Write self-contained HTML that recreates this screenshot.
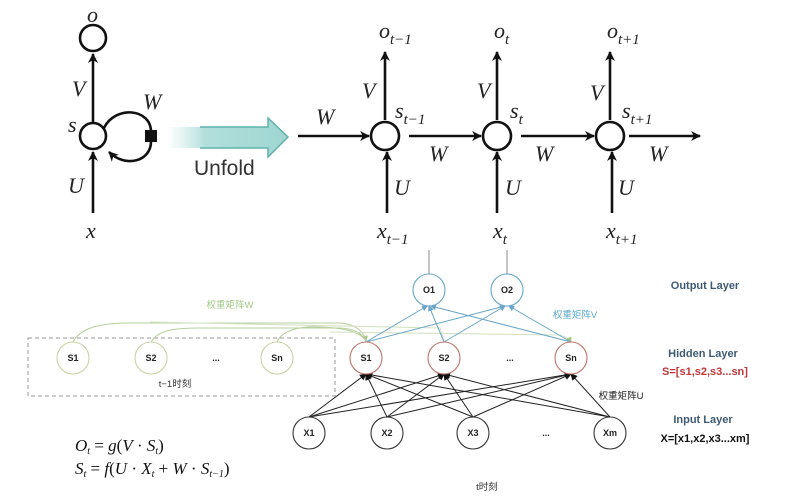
<!DOCTYPE html>
<html><head><meta charset="utf-8"><style>
html,body{margin:0;padding:0;background:#fff}
svg{display:block}
</style></head><body>
<svg width="796" height="500" viewBox="0 0 796 500" xmlns="http://www.w3.org/2000/svg">
<defs>
<marker id="ah" markerWidth="10" markerHeight="10" refX="9" refY="5" orient="auto" markerUnits="userSpaceOnUse"><path d="M0,0 L10,5 L0,10 L3,5 z" fill="#111"/></marker>
<marker id="sm" markerWidth="7" markerHeight="7" refX="6" refY="3.5" orient="auto" markerUnits="userSpaceOnUse"><path d="M0,0 L7,3.5 L0,7 z" fill="#111"/></marker>
<marker id="bm" markerWidth="6" markerHeight="6" refX="5" refY="3" orient="auto" markerUnits="userSpaceOnUse"><path d="M0,0 L6,3 L0,6 z" fill="#6aa6c8"/></marker>
<marker id="gm" markerWidth="6" markerHeight="6" refX="5" refY="3" orient="auto" markerUnits="userSpaceOnUse"><path d="M0,0 L6,3 L0,6 z" fill="#a9c98a"/></marker>
<linearGradient id="tg" x1="0" x2="1" y1="0" y2="0">
<stop offset="0" stop-color="#c6e8e5" stop-opacity="0.1"/><stop offset="0.3" stop-color="#b2dfdb"/><stop offset="1" stop-color="#9ed6d1"/></linearGradient>
</defs>
<g stroke="#111" stroke-width="2.6" fill="none">
<!-- left folded -->
<circle cx="93" cy="38" r="13"/>
<circle cx="93" cy="136" r="13"/>
<line x1="93" y1="122" x2="93" y2="54" marker-end="url(#ah)"/>
<line x1="93" y1="213" x2="93" y2="152" marker-end="url(#ah)"/>
<path d="M104,128 C115,105 152,108 151,133"/>
<path d="M151,140 C152,162 125,168 109,152" marker-end="url(#ah)"/>
</g>
<rect x="145" y="130" width="12" height="12" fill="#111"/>
<g font-family="Liberation Serif,serif" font-style="italic" font-size="22" fill="#222">
<text x="87" y="22">o</text>
<text x="72" y="96">V</text>
<text x="68" y="132">s</text>
<text x="143" y="109">W</text>
<text x="68" y="193">U</text>
<text x="86" y="238">x</text>
</g>
<!-- unfold arrow -->
<path d="M170,127 H268 V118 L288,137 L268,157 V148 H170 z" fill="url(#tg)" stroke="none"/>
<path d="M200,127 H268 V118 L288,137 L268,157 V148 H200" fill="none" stroke="#5fb3ac" stroke-width="1.5"/>
<text x="194" y="175" font-family="Liberation Sans,sans-serif" font-size="21" fill="#333">Unfold</text>
<!-- unfolded -->
<g stroke="#111" stroke-width="2.6" fill="none">
<circle cx="385" cy="136" r="14"/>
<circle cx="497" cy="136" r="14"/>
<circle cx="610" cy="136" r="14"/>
<line x1="298" y1="136" x2="369" y2="136" marker-end="url(#ah)"/>
<line x1="409" y1="136" x2="481" y2="136" marker-end="url(#ah)"/>
<line x1="521" y1="136" x2="594" y2="136" marker-end="url(#ah)"/>
<line x1="629" y1="136" x2="700" y2="136" marker-end="url(#ah)"/>
<line x1="385" y1="120" x2="385" y2="52" marker-end="url(#ah)"/>
<line x1="497" y1="120" x2="497" y2="52" marker-end="url(#ah)"/>
<line x1="610" y1="120" x2="610" y2="52" marker-end="url(#ah)"/>
<line x1="387" y1="213" x2="387" y2="152" marker-end="url(#ah)"/>
<line x1="497" y1="213" x2="497" y2="152" marker-end="url(#ah)"/>
<line x1="612" y1="213" x2="612" y2="152" marker-end="url(#ah)"/>
</g>
<g font-family="Liberation Serif,serif" font-style="italic" font-size="22" fill="#222">
<text x="316" y="124">W</text>
<text x="379" y="38">o<tspan font-size="15" dy="6">t−1</tspan></text>
<text x="494" y="38">o<tspan font-size="15" dy="6">t</tspan></text>
<text x="607" y="38">o<tspan font-size="15" dy="6">t+1</tspan></text>
<text x="362" y="98">V</text>
<text x="477" y="98">V</text>
<text x="590" y="100">V</text>
<text x="395" y="118">s<tspan font-size="15" dy="6">t−1</tspan></text>
<text x="510" y="118">s<tspan font-size="15" dy="6">t</tspan></text>
<text x="622" y="118">s<tspan font-size="15" dy="6">t+1</tspan></text>
<text x="429" y="161">W</text>
<text x="535" y="161">W</text>
<text x="649" y="161">W</text>
<text x="394" y="195">U</text>
<text x="505" y="195">U</text>
<text x="618" y="195">U</text>
<text x="377" y="238">x<tspan font-size="15" dy="6">t−1</tspan></text>
<text x="493" y="238">x<tspan font-size="15" dy="6">t</tspan></text>
<text x="606" y="238">x<tspan font-size="15" dy="6">t+1</tspan></text>
</g>
<!-- bottom network -->
<line x1="429" y1="250" x2="429" y2="274" stroke="#888" stroke-width="1"/>
<line x1="507" y1="250" x2="507" y2="274" stroke="#888" stroke-width="1"/>
<rect x="28" y="338" width="307" height="58" fill="none" stroke="#999" stroke-width="1" stroke-dasharray="4,3"/>
<g fill="none" stroke="#b7cf9c" stroke-width="1.1">
<path d="M73,342 C80,328 100,323 130,323 L340,323 C356,324 364,332 366,341" marker-end="url(#gm)"/>
<path d="M151,342 C158,330 175,328 200,328 L340,328 C356,329 362,334 366,341"/>
<path d="M277,342 C282,330 300,326 320,327 C350,328 362,334 366,341"/>
<path d="M150,322 L440,328 C442,334 444,338 444,341" stroke="#d4e2c4"/>
<path d="M330,332 L560,335 C566,337 570,340 571,342" stroke="#d4e2c4" marker-end="url(#gm)"/>
</g>
<g stroke="#6aa6c8" stroke-width="1" fill="none">
<line x1="366" y1="342" x2="427" y2="306" marker-end="url(#bm)"/>
<line x1="366" y1="342" x2="505" y2="306" marker-end="url(#bm)"/>
<line x1="444" y1="342" x2="429" y2="306" marker-end="url(#bm)"/>
<line x1="444" y1="342" x2="505" y2="306" marker-end="url(#bm)"/>
<line x1="571" y1="342" x2="431" y2="306" marker-end="url(#bm)"/>
<line x1="571" y1="342" x2="509" y2="306" marker-end="url(#bm)"/>
</g>
<g stroke="#222" stroke-width="1" fill="none">
<line x1="309" y1="417" x2="366" y2="374" marker-end="url(#sm)"/>
<line x1="309" y1="417" x2="444" y2="374" marker-end="url(#sm)"/>
<line x1="309" y1="417" x2="571" y2="374" marker-end="url(#sm)"/>
<line x1="387" y1="417" x2="366" y2="374" marker-end="url(#sm)"/>
<line x1="387" y1="417" x2="444" y2="374" marker-end="url(#sm)"/>
<line x1="387" y1="417" x2="571" y2="374" marker-end="url(#sm)"/>
<line x1="473" y1="417" x2="366" y2="374" marker-end="url(#sm)"/>
<line x1="473" y1="417" x2="444" y2="374" marker-end="url(#sm)"/>
<line x1="473" y1="417" x2="571" y2="374" marker-end="url(#sm)"/>
<line x1="610" y1="417" x2="366" y2="374" marker-end="url(#sm)"/>
<line x1="610" y1="417" x2="444" y2="374" marker-end="url(#sm)"/>
<line x1="610" y1="417" x2="571" y2="374" marker-end="url(#sm)"/>
</g>
<g fill="#fff" stroke-width="1.1">
<circle cx="429" cy="290" r="16" stroke="#6aa6c8"/>
<circle cx="507" cy="290" r="16" stroke="#6aa6c8"/>
<circle cx="73" cy="358" r="16" stroke="#c9d4a6"/>
<circle cx="151" cy="358" r="16" stroke="#c9d4a6"/>
<circle cx="277" cy="358" r="16" stroke="#c9d4a6"/>
<circle cx="366" cy="358" r="16" stroke="#c0766c"/>
<circle cx="444" cy="358" r="16" stroke="#c0766c"/>
<circle cx="571" cy="358" r="16" stroke="#c0766c"/>
<circle cx="309" cy="433" r="16" stroke="#333"/>
<circle cx="387" cy="433" r="16" stroke="#333"/>
<circle cx="473" cy="433" r="16" stroke="#333"/>
<circle cx="610" cy="433" r="16" stroke="#333"/>
</g>
<g font-family="Liberation Sans,sans-serif" font-size="9" font-weight="bold" fill="#222" text-anchor="middle">
<text x="429" y="293">O1</text><text x="507" y="293">O2</text>
<text x="73" y="361">S1</text><text x="151" y="361">S2</text><text x="216" y="361">...</text><text x="277" y="361">Sn</text>
<text x="366" y="361">S1</text><text x="444" y="361">S2</text><text x="510" y="361">...</text><text x="571" y="361">Sn</text>
<text x="309" y="436">X1</text><text x="387" y="436">X2</text><text x="473" y="436">X3</text><text x="546" y="436">...</text><text x="610" y="436">Xm</text>
</g>
<g font-family="Liberation Sans,'Noto Sans CJK SC',sans-serif" font-size="9.5" text-anchor="middle">
<text x="230" y="308" fill="#a5c889">权重矩阵W</text>
<text x="575" y="318" fill="#5aa9d2">权重矩阵V</text>
<text x="621" y="399" fill="#222">权重矩阵U</text>
<text x="175" y="387" fill="#333">t−1时刻</text>
<text x="487" y="490" fill="#333">t时刻</text>
</g>
<g font-family="Liberation Sans,sans-serif" font-size="11" font-weight="bold" text-anchor="middle">
<text x="705" y="289" fill="#3f5a75">Output Layer</text>
<text x="703" y="357" fill="#3f5a75">Hidden Layer</text>
<text x="705" y="375" fill="#c0353a">S=[s1,s2,s3...sn]</text>
<text x="703" y="423" fill="#3f5a75">Input Layer</text>
<text x="705" y="442" fill="#111">X=[x1,x2,x3...xm]</text>
</g>
<g font-family="Liberation Serif,serif" font-size="17" fill="#111">
<text x="75" y="451"><tspan font-style="italic">O</tspan><tspan font-size="10" dy="3" font-style="italic">t</tspan><tspan dy="-3"> = </tspan><tspan font-style="italic">g</tspan>(<tspan font-style="italic">V</tspan> · <tspan font-style="italic">S</tspan><tspan font-size="10" dy="3" font-style="italic">t</tspan><tspan dy="-3">)</tspan></text>
<text x="75" y="474"><tspan font-style="italic">S</tspan><tspan font-size="10" dy="3" font-style="italic">t</tspan><tspan dy="-3"> = </tspan><tspan font-style="italic">f</tspan>(<tspan font-style="italic">U</tspan> · <tspan font-style="italic">X</tspan><tspan font-size="10" dy="3" font-style="italic">t</tspan><tspan dy="-3"> + </tspan><tspan font-style="italic">W</tspan> · <tspan font-style="italic">S</tspan><tspan font-size="10" dy="3" font-style="italic">t−1</tspan><tspan dy="-3">)</tspan></text>
</g>
</svg>
</body></html>
